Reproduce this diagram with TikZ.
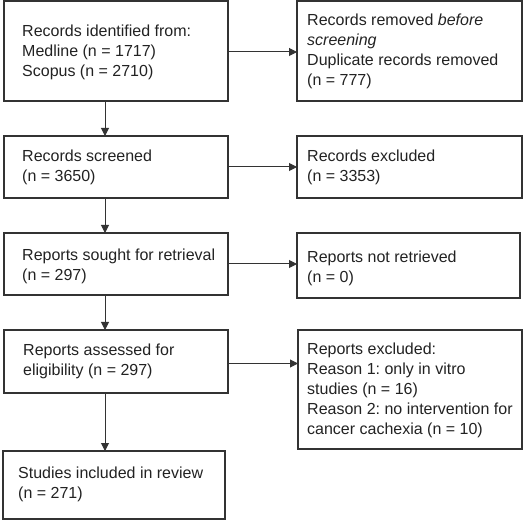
\documentclass[tikz,border=0pt]{standalone}
\usepackage{fontspec}
\setmainfont{Liberation Sans}
\usetikzlibrary{arrows.meta}
\definecolor{ln}{HTML}{333333}
\definecolor{tx}{HTML}{222222}
\frenchspacing
\begin{document}
\begin{tikzpicture}[x=1pt,y=-1pt,
  bx/.style={draw=ln,line width=1.4pt,rectangle,anchor=north west,inner sep=0pt,outer sep=0pt},
  tt/.style={anchor=west,align=left,font=\fontsize{16}{20}\selectfont,text=tx,inner sep=0pt},
  arr/.style={draw=ln,line width=1pt,-{Triangle[length=8pt,width=8pt]}}]
\useasboundingbox (0,0) rectangle (525,521);
% left column boxes
\node[bx,minimum width=224pt,minimum height=100pt] (A) at (4,1) {};
\node[bx,minimum width=224pt,minimum height=62pt] (C) at (4,136) {};
\node[bx,minimum width=224pt,minimum height=62pt] (E) at (4,233) {};
\node[bx,minimum width=224pt,minimum height=63pt] (G) at (4,330) {};
\node[bx,minimum width=222pt,minimum height=68pt] (I) at (3,451) {};
% right column boxes
\node[bx,minimum width=225pt,minimum height=100pt] (B) at (297,1) {};
\node[bx,minimum width=225pt,minimum height=62pt] (D) at (297,136) {};
\node[bx,minimum width=223pt,minimum height=65pt] (F) at (297,233) {};
\node[bx,minimum width=224pt,minimum height=119pt] (H) at (298,330) {};
% texts
\node[tt] (At) at ([xshift=18pt,yshift=-1pt]A.west) {Records identified from:\\Medline (n = 1717)\\Scopus (n = 2710)};
\node[tt] (Ct) at ([xshift=18pt]C.west) {Records screened\\(n = 3650)};
\node[tt] (Et) at ([xshift=18pt,yshift=-2.5pt]E.west) {Reports sought for retrieval\\(n = 297)};
\node[tt] (Gt) at ([xshift=19pt,yshift=0.5pt]G.west) {Reports assessed for\\eligibility (n = 297)};
\node[tt] (It) at ([xshift=15pt,yshift=0.5pt]I.west) {Studies included in review\\(n = 271)};
\node[tt] (Bt) at ([xshift=10pt]B.west) {Records removed \textit{before}\\\textit{screening}\\Duplicate records removed\\(n = 777)};
\node[tt] (Dt) at ([xshift=10pt]D.west) {Records excluded\\(n = 3353)};
\node[tt] (Ft) at ([xshift=10pt,yshift=-2.5pt]F.west) {Reports not retrieved\\(n = 0)};
\node[tt] (Ht) at ([xshift=9pt,yshift=-0.5pt]H.west) {Reports excluded:\\Reason 1: only in vitro\\studies (n = 16)\\Reason 2: no intervention for\\cancer cachexia (n = 10)};
% vertical arrows
\draw[arr] (A.south west) ++(101,0) coordinate (a1) -- (a1 |- C.north);
\draw[arr] (C.south west) ++(101,0) coordinate (c1) -- (c1 |- E.north);
\draw[arr] (E.south west) ++(101,0) coordinate (e1) -- (e1 |- G.north);
\draw[arr] (G.south west) ++(101,0) coordinate (g1) -- (g1 |- I.north);
% horizontal arrows
\draw[arr] ([yshift=-1pt]A.east) -- ([yshift=-1pt]A.east -| B.west);
\draw[arr] (C.east) -- (C.east -| D.west);
\draw[arr] (E.east) -- (E.east -| F.west);
\draw[arr] ([yshift=-2pt]G.east) -- ([yshift=-2pt]G.east -| H.west);
\end{tikzpicture}
\end{document}
